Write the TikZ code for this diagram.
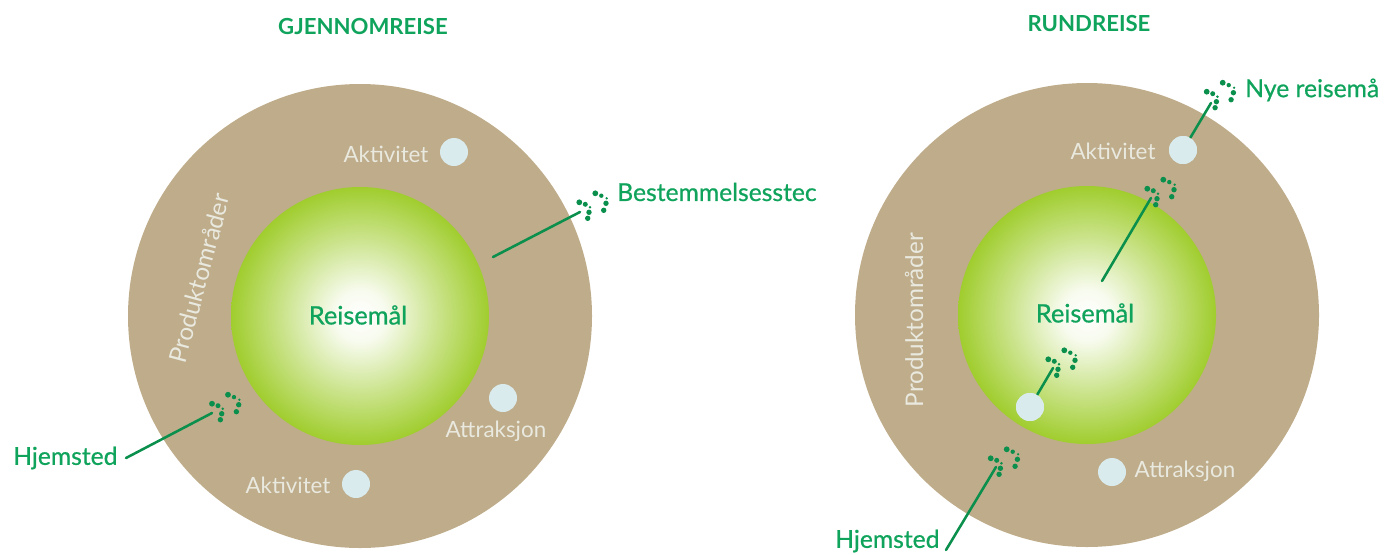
\documentclass[tikz,border=0pt]{standalone}
\usepackage{fontspec}
\setmainfont{Lato}
\newfontfamily\inkfont[FakeBold=0.7]{Lato}
\definecolor{ringc}{HTML}{BEAC8A}
\definecolor{greenc}{HTML}{A0CD2E}
\definecolor{inkc}{HTML}{0FA35C}
\definecolor{stepc}{HTML}{0A8F4C}
\definecolor{spotc}{HTML}{DAEBEE}
\definecolor{softc}{HTML}{E9E9DF}
\pgfdeclareradialshading{glow}{\pgfpointorigin}{
  color(0bp)=(white);
  color(5bp)=(white!92!greenc);
  color(15bp)=(greenc!55!white);
  color(25bp)=(greenc);
  color(50bp)=(greenc)}
\tikzset{
  x=0.75pt,y=-0.75pt,
  ring/.style={circle,fill=ringc,minimum size=348pt,inner sep=0pt},
  core/.style={circle,shading=glow,minimum size=193.5pt,inner sep=0pt},
  spot/.style={circle,fill=spotc,minimum size=21pt,inner sep=0pt},
  softlabel/.style={text=softc,font=\fontsize{16.8}{20}\selectfont,inner sep=0pt},
  prodlabel/.style={text=softc,font=\fontsize{18.2}{20}\selectfont,inner sep=0pt},
  inklabel/.style={text=inkc,font=\inkfont\fontsize{18.5}{22}\selectfont,inner sep=0pt},
  corelabel/.style={text=inkc,font=\inkfont\fontsize{19}{22}\selectfont,inner sep=0pt},
  titlelabel/.style={text=inkc,font=\bfseries\fontsize{16.6}{20}\selectfont,inner sep=0pt},
  route/.style={draw=stepc,line width=1.9pt,line cap=round},
  footprints/.pic={
    \foreach \px/\py/\pr in {-10.7/-2.7/2.9,-4.7/-0.7/2.5,0/2.3/1.4,-1/7.3/2.7,-2.3/13.3/2.7,
                             5.3/-11.7/2.9,11.3/-9.3/2.2,16.7/-6.7/1.3,16/-1.7/2.7,13.7/5.3/2.7}
      \fill[stepc] (\px,\py) circle[radius=\pr*0.75pt];
  }
}
\begin{document}
\begin{tikzpicture}
\useasboundingbox (0,0) rectangle (1385,554);
% left diagram
\node[ring] (ringL) at (360,316) {};
\node[core] (coreL) at (360,316) {};
\node[spot] (spotLa) at (454,152) {};
\node[spot] (spotLb) at (503,398) {};
\node[spot] (spotLc) at (356,484) {};
\node[titlelabel] (titleL) at (363,26) {GJENNOMREISE};
\node[corelabel] (reiseL) at (358,315) {Reisemål};
\node[softlabel] (aktLa) at (386,154) {Aktivitet};
\node[softlabel] (attL) at (496,431) {Attraksjon};
\node[softlabel] (aktLb) at (288,485) {Aktivitet};
\node[prodlabel,rotate=75] (prodL) at (199,278) {Produktområder};
\node[inklabel,anchor=west] (destL) at (617,192) {Bestemmelsesstec};
\node[inklabel,anchor=west] (homeL) at (13,458) {Hjemsted};
\coordinate (a1) at (493,257);
\coordinate (a2) at (580,212);
\coordinate (b1) at (126,458);
\coordinate (b2) at (212,413);
\draw[route] (a1) -- (a2);
\draw[route] (b1) -- (b2);
\pic at (590,205) {footprints};
\pic at (222.7,406.4) {footprints};
% right diagram
\node[ring] (ringR) at (1087,315) {};
\node[core] (coreR) at (1087,315) {};
\node[spot] (spotRa) at (1183,150) {};
\node[spot] (spotRb) at (1030,407) {};
\node[spot] (spotRc) at (1112,472) {};
\node[titlelabel] (titleR) at (1089,23) {RUNDREISE};
\node[corelabel] (reiseR) at (1085,313) {Reisemål};
\node[softlabel] (aktR) at (1113,151) {Aktivitet};
\node[softlabel] (attR) at (1185,471) {Attraksjon};
\node[prodlabel,rotate=90] (prodR) at (914,320) {Produktområder};
\node[inklabel,anchor=west] (newR) at (1245,90) {Nye reisemå};
\node[inklabel,anchor=west] (homeR) at (835,541) {Hjemsted};
\coordinate (c1) at (1102,281);
\coordinate (c2) at (1151,198);
\coordinate (d1) at (946,550);
\coordinate (d2) at (996,467);
\coordinate (e2) at (1211,103);
\coordinate (f2) at (1053,368);
\draw[route] (c1) -- (c2);
\draw[route] (d1) -- (d2);
\draw[route] (spotRa) -- (e2);
\draw[route] (spotRb) -- (f2);
\node[spot] at (spotRa) {};
\node[spot] at (spotRb) {};
\pic at (1217.4,94.4) {footprints};
\pic at (1158,191.4) {footprints};
\pic at (1059,362) {footprints};
\pic at (1001.4,461) {footprints};
\end{tikzpicture}
\end{document}
